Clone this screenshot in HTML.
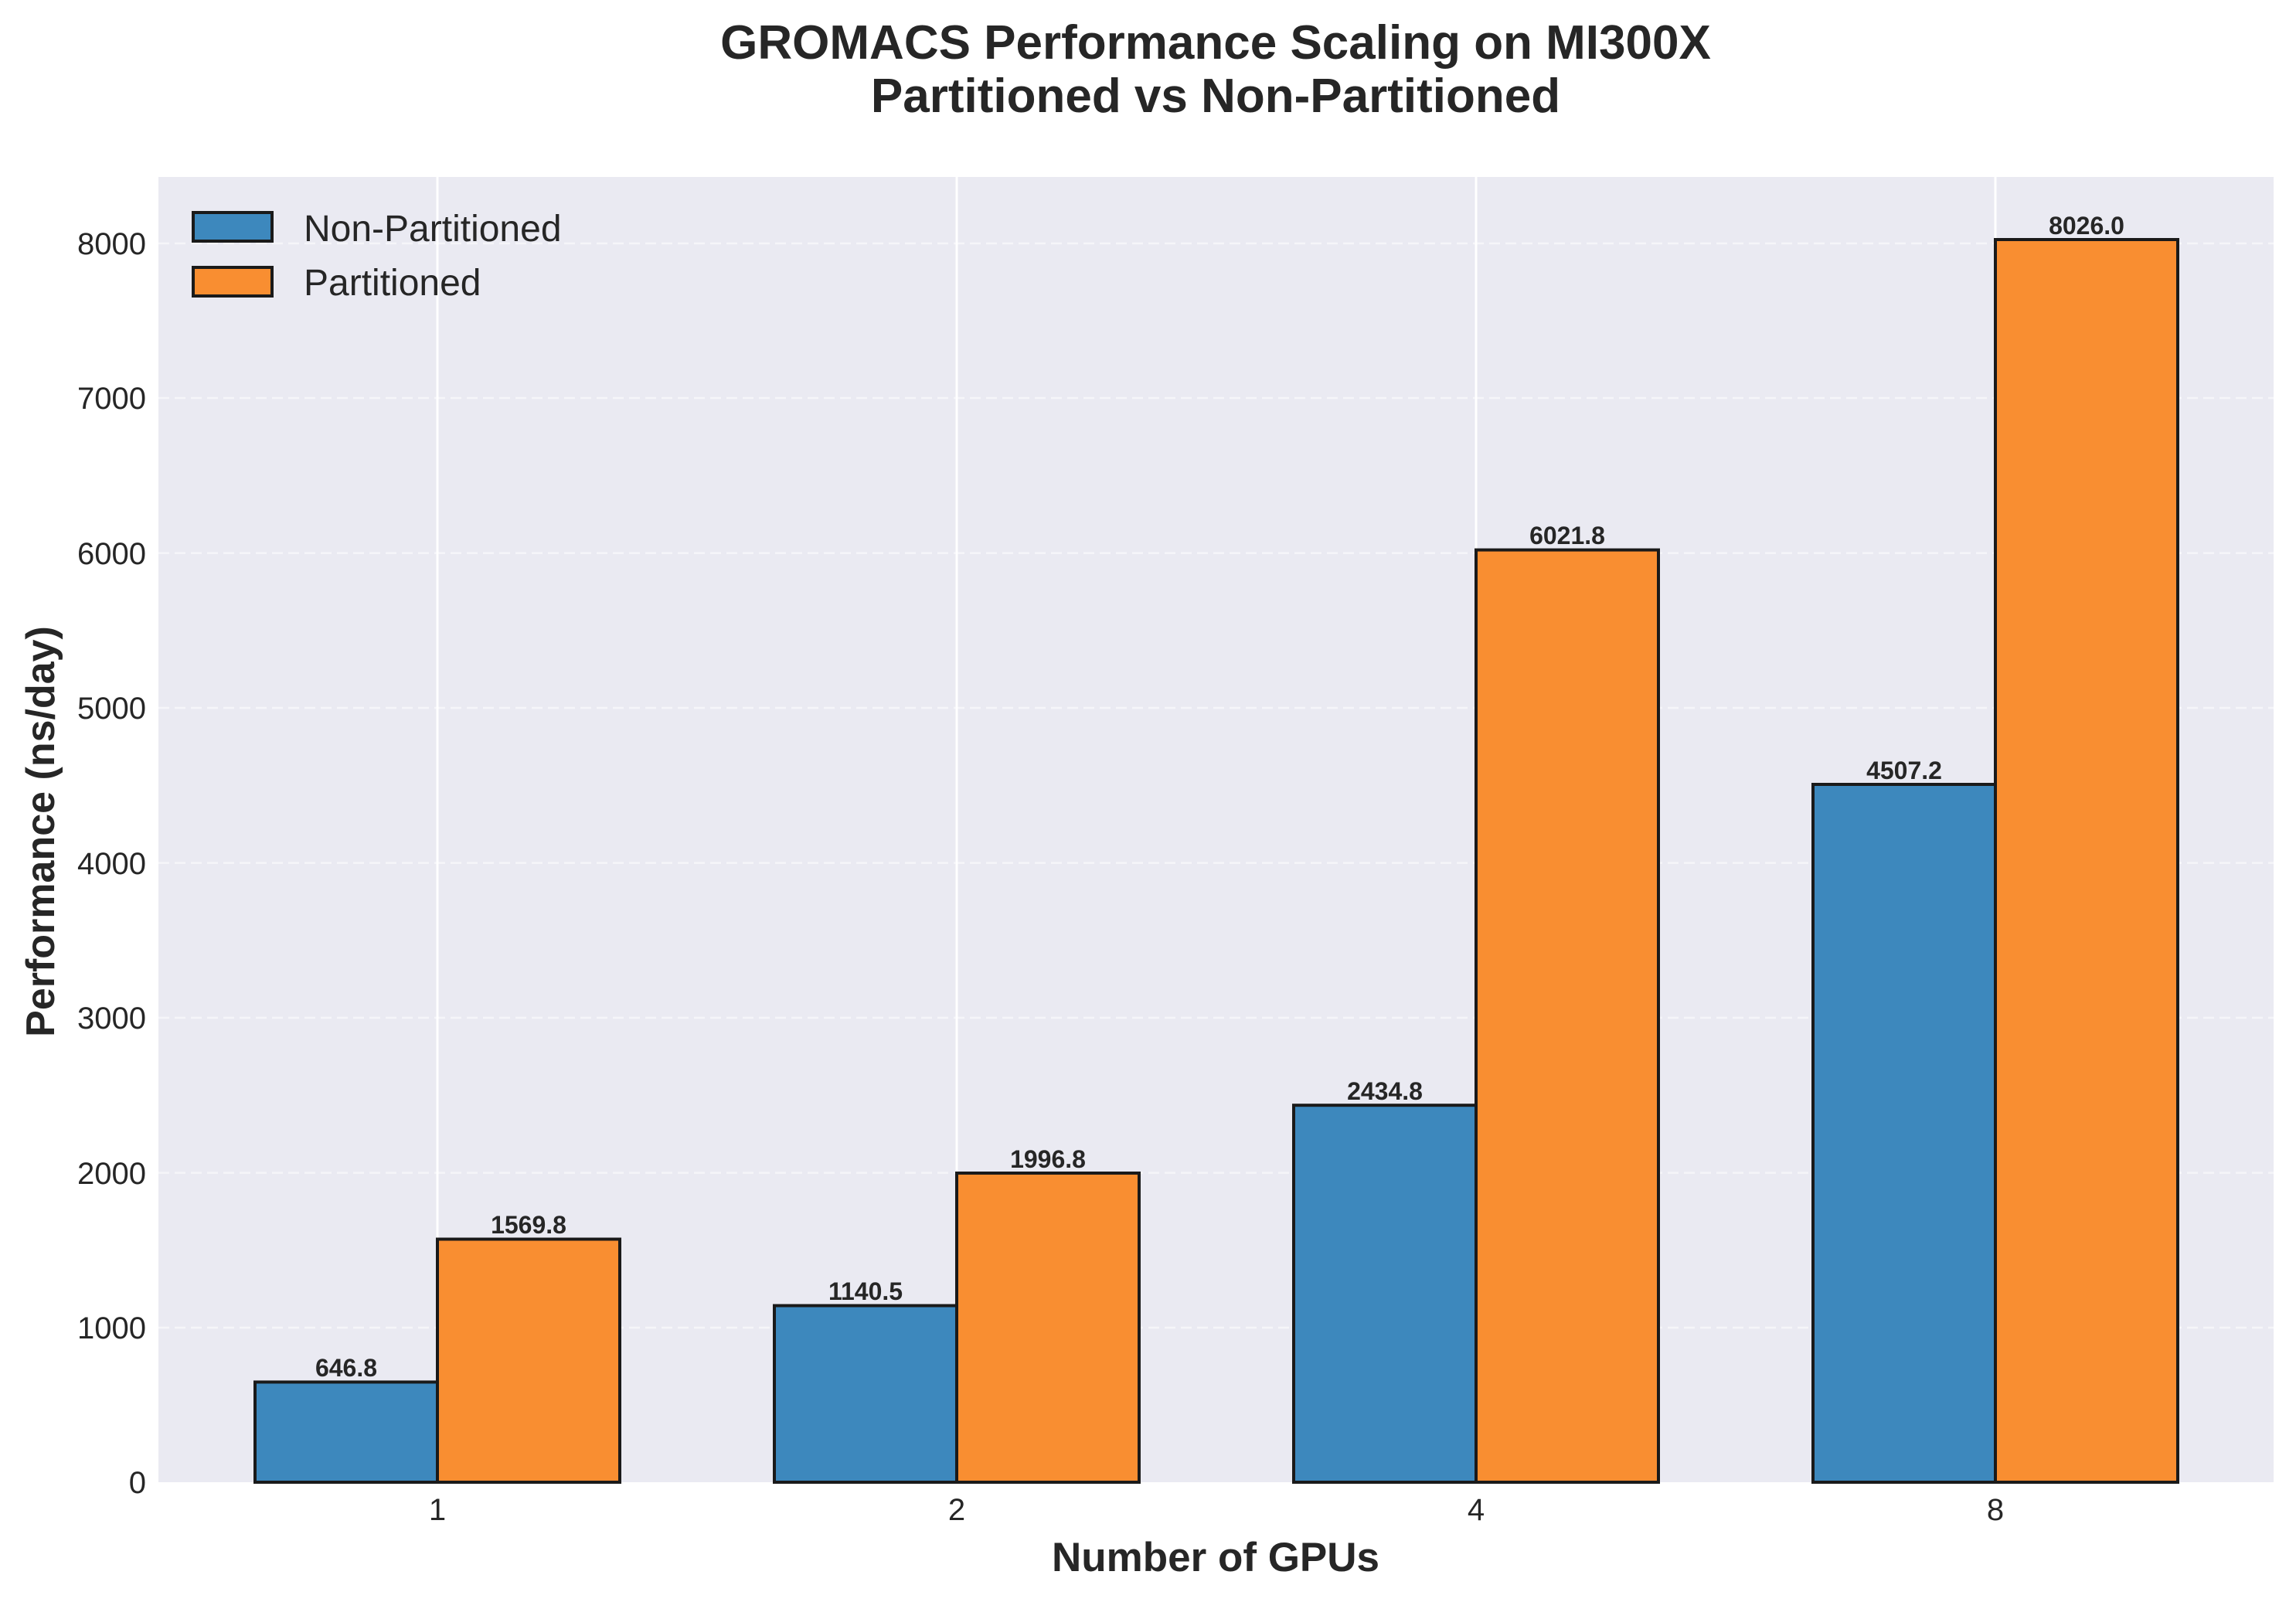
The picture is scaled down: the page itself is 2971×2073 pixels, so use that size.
<!DOCTYPE html>
<html><head><meta charset="utf-8"><style>
html,body{margin:0;padding:0;background:#fff;}
svg{display:block;font-family:"Liberation Sans",Arial,sans-serif;}
</style></head><body>
<svg width="2971" height="2073" viewBox="0 0 2971 2073" xmlns="http://www.w3.org/2000/svg">
<rect x="0" y="0" width="2971" height="2073" fill="#fff"/>
<text x="1573" y="76" text-anchor="middle" font-size="62" font-weight="bold" fill="#262626">GROMACS Performance Scaling on MI300X</text>
<text x="1573" y="145" text-anchor="middle" font-size="62" font-weight="bold" fill="#262626">Partitioned vs Non-Partitioned</text>
<rect x="205" y="229" width="2737" height="1689" fill="#eaeaf2"/>
<g stroke="#f5f5f9" stroke-width="2.5" stroke-dasharray="14,7">
<line x1="205" x2="2942" y1="1718" y2="1718"/>
<line x1="205" x2="2942" y1="1517.6" y2="1517.6"/>
<line x1="205" x2="2942" y1="1317" y2="1317"/>
<line x1="205" x2="2942" y1="1116.6" y2="1116.6"/>
<line x1="205" x2="2942" y1="916" y2="916"/>
<line x1="205" x2="2942" y1="715.6" y2="715.6"/>
<line x1="205" x2="2942" y1="515" y2="515"/>
<line x1="205" x2="2942" y1="315" y2="315"/>
</g>
<g stroke="#fff" stroke-width="3">
<line x1="566" x2="566" y1="229" y2="1918"/>
<line x1="1238" x2="1238" y1="229" y2="1918"/>
<line x1="1910" x2="1910" y1="229" y2="1918"/>
<line x1="2582" x2="2582" y1="229" y2="1918"/>
</g>
<g stroke="#1a1a1a" stroke-width="4">
<rect x="330" y="1788.4" width="236" height="129.6" fill="#3d88bd"/>
<rect x="566" y="1603.5" width="236" height="314.5" fill="#f98e31"/>
<rect x="1002" y="1689.5" width="236" height="228.5" fill="#3d88bd"/>
<rect x="1238" y="1518" width="236" height="400" fill="#f98e31"/>
<rect x="1674" y="1430.2" width="236" height="487.8" fill="#3d88bd"/>
<rect x="1910" y="711.6" width="236" height="1206.4" fill="#f98e31"/>
<rect x="2346" y="1015" width="236" height="903" fill="#3d88bd"/>
<rect x="2582" y="310" width="236" height="1608" fill="#f98e31"/>
</g>
<g font-size="32" font-weight="bold" fill="#262626" text-anchor="middle">
<text x="448" y="1781">646.8</text>
<text x="684" y="1596">1569.8</text>
<text x="1120" y="1682">1140.5</text>
<text x="1356" y="1511">1996.8</text>
<text x="1792" y="1423">2434.8</text>
<text x="2028" y="704">6021.8</text>
<text x="2464" y="1008">4507.2</text>
<text x="2700" y="303">8026.0</text>
</g>
<g font-size="40" fill="#262626" text-anchor="end">
<text x="189" y="1932">0</text>
<text x="189" y="1732">1000</text>
<text x="189" y="1532">2000</text>
<text x="189" y="1331">3000</text>
<text x="189" y="1131">4000</text>
<text x="189" y="930">5000</text>
<text x="189" y="730">6000</text>
<text x="189" y="529">7000</text>
<text x="189" y="329">8000</text>
</g>
<g font-size="40" fill="#262626" text-anchor="middle">
<text x="566" y="1967">1</text>
<text x="1238" y="1967">2</text>
<text x="1910" y="1967">4</text>
<text x="2582" y="1967">8</text>
</g>
<text x="1573" y="2033" text-anchor="middle" font-size="53" font-weight="bold" fill="#262626">Number of GPUs</text>
<text transform="translate(70,1076) rotate(-90)" text-anchor="middle" font-size="52" font-weight="bold" fill="#262626">Performance (ns/day)</text>
<rect x="250" y="275" width="102" height="37" fill="#3d88bd" stroke="#1a1a1a" stroke-width="4"/>
<rect x="250" y="346" width="102" height="37" fill="#f98e31" stroke="#1a1a1a" stroke-width="4"/>
<text x="393" y="312" font-size="48" fill="#262626">Non-Partitioned</text>
<text x="393" y="382" font-size="48" fill="#262626">Partitioned</text>
</svg>
</body></html>
